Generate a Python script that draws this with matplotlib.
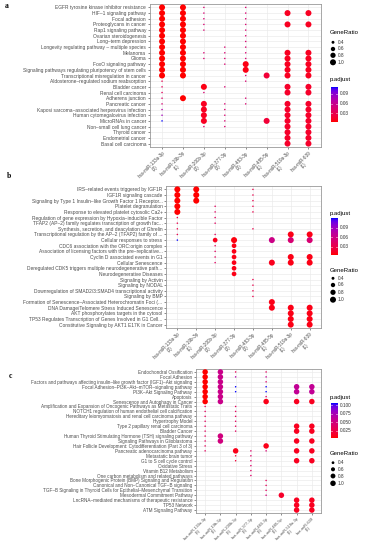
import numpy as np
import matplotlib.pyplot as plt
from matplotlib.colors import LinearSegmentedColormap

W, H = 365, 550

mirnas = ['hsa-miR-133a-3p', 'hsa-miR-19b-3p', 'hsa-miR-200b-3p', 'hsa-miR-377-3p',
          'hsa-miR-483-3p', 'hsa-miR-485-5p', 'hsa-miR-519a-3p', 'hsa-miR-639']
totals = [3, 1, 3, 3, 3, 1, 1, 1]

# ---- panel a (KEGG) ----
a_terms = ['EGFR tyrosine kinase inhibitor resistance', 'HIF–1 signaling pathway', 'Focal adhesion',
           'Proteoglycans in cancer', 'Rap1 signaling pathway', 'Ovarian steroidogenesis',
           'Long–term depression', 'Longevity regulating pathway – multiple species', 'Melanoma',
           'Glioma', 'FoxO signaling pathway', 'Signaling pathways regulating pluripotency of stem cells',
           'Transcriptional misregulation in cancer', 'Aldosterone–regulated sodium reabsorption',
           'Bladder cancer', 'Renal cell carcinoma', 'Adherens junction', 'Pancreatic cancer',
           'Kaposi sarcoma–associated herpesvirus infection', 'Human cytomegalovirus infection',
           'MicroRNAs in cancer', 'Non–small cell lung cancer', 'Thyroid cancer',
           'Endometrial cancer', 'Basal cell carcinoma']
a_counts = [
    [3, 1, 1, 0, 1, 0, 0, 0],
    [3, 1, 1, 0, 1, 0, 1, 1],
    [3, 1, 1, 0, 1, 0, 0, 0],
    [3, 1, 1, 0, 1, 0, 1, 1],
    [3, 1, 1, 0, 1, 0, 0, 0],
    [3, 1, 0, 0, 1, 0, 0, 0],
    [3, 1, 0, 0, 1, 0, 0, 0],
    [3, 1, 0, 1, 1, 0, 0, 0],
    [3, 1, 1, 1, 1, 0, 1, 1],
    [3, 1, 1, 1, 1, 0, 1, 1],
    [3, 1, 0, 1, 3, 0, 1, 1],
    [3, 1, 0, 0, 3, 0, 1, 1],
    [3, 1, 0, 0, 1, 1, 1, 1],
    [1, 0, 0, 0, 1, 0, 0, 0],
    [1, 0, 3, 1, 0, 0, 1, 1],
    [1, 0, 1, 0, 0, 0, 1, 1],
    [1, 1, 0, 0, 1, 0, 0, 0],
    [1, 0, 3, 1, 1, 0, 1, 1],
    [1, 0, 3, 1, 0, 0, 1, 1],
    [1, 0, 3, 1, 0, 0, 1, 1],
    [1, 0, 3, 1, 0, 1, 1, 1],
    [0, 0, 1, 1, 0, 0, 1, 1],
    [0, 0, 0, 0, 0, 0, 1, 1],
    [0, 0, 0, 0, 0, 0, 1, 1],
    [0, 0, 0, 0, 0, 0, 1, 1],
]
a_padj = [
    [.004, .004, .045, 0, .045, 0, 0, 0],
    [.004, .004, .045, 0, .045, 0, .012, .012],
    [.004, .004, .045, 0, .045, 0, 0, 0],
    [.004, .004, .045, 0, .045, 0, .012, .012],
    [.004, .004, .045, 0, .045, 0, 0, 0],
    [.004, .004, 0, 0, .045, 0, 0, 0],
    [.004, .004, 0, 0, .045, 0, 0, 0],
    [.004, .004, 0, .045, .045, 0, 0, 0],
    [.004, .004, .045, .045, .045, 0, .012, .012],
    [.004, .004, .045, .045, .045, 0, .012, .012],
    [.004, .004, 0, .045, .008, 0, .012, .012],
    [.004, .004, 0, 0, .008, 0, .012, .012],
    [.004, .004, 0, 0, .045, .02, .012, .012],
    [.03, 0, 0, 0, .045, 0, 0, 0],
    [.035, 0, .008, .045, 0, 0, .015, .015],
    [.035, 0, .045, 0, 0, 0, .015, .015],
    [.04, .004, 0, 0, .045, 0, 0, 0],
    [.045, 0, .012, .045, .045, 0, .015, .015],
    [.07, 0, .012, .045, 0, 0, .015, .015],
    [.08, 0, .012, .045, 0, 0, .015, .015],
    [.11, 0, .012, .045, 0, .02, .015, .015],
    [0, 0, .045, .045, 0, 0, .015, .015],
    [0, 0, 0, 0, 0, 0, .015, .015],
    [0, 0, 0, 0, 0, 0, .015, .015],
    [0, 0, 0, 0, 0, 0, .015, .015],
]

# ---- panel b (Reactome) ----
b_terms = ['IRS–related events triggered by IGF1R', 'IGF1R signaling cascade',
           'Signaling by Type 1 Insulin–like Growth Factor 1 Receptor...', 'Platelet degranulation',
           'Response to elevated platelet cytosolic Ca2+',
           'Regulation of gene expression by Hypoxia–inducible Factor',
           'TFAP2 (AP–2) family regulates transcription of growth fac...',
           'Synthesis, secretion, and deacylation of Ghrelin',
           'Transcriptional regulation by the AP–2 (TFAP2) family of ...',
           'Cellular responses to stress', 'CDC6 association with the ORC:origin complex',
           'Association of licensing factors with the pre–replicative...',
           'Cyclin D associated events in G1', 'Cellular Senescence',
           'Deregulated CDK5 triggers multiple neurodegenerative path...',
           'Neurodegenerative Diseases', 'Signaling by Activin', 'Signaling by NODAL',
           'Downregulation of SMAD2/3:SMAD4 transcriptional activity', 'Signaling by BMP',
           'Formation of Senescence–Associated Heterochromatin Foci (...',
           'DNA Damage/Telomere Stress Induced Senescence', 'AKT phosphorylates targets in the cytosol',
           'TP53 Regulates Transcription of Genes Involved in G1 Cell...',
           'Constitutive Signaling by AKT1 E17K in Cancer']
b_counts = [
    [3, 1, 0, 0, 1, 0, 0, 0],
    [3, 1, 0, 0, 1, 0, 0, 0],
    [3, 1, 0, 0, 1, 0, 0, 0],
    [3, 0, 1, 0, 1, 0, 0, 0],
    [3, 0, 1, 0, 1, 0, 0, 0],
    [1, 0, 1, 0, 0, 0, 0, 0],
    [1, 0, 1, 0, 0, 0, 0, 0],
    [1, 0, 0, 0, 1, 0, 0, 0],
    [1, 0, 1, 0, 0, 0, 1, 1],
    [1, 0, 2, 3, 0, 1, 1, 1],
    [0, 0, 1, 2, 0, 0, 0, 0],
    [0, 0, 1, 2, 0, 0, 0, 0],
    [0, 0, 1, 2, 0, 0, 1, 1],
    [0, 0, 1, 2, 0, 1, 1, 1],
    [0, 0, 0, 2, 0, 0, 0, 0],
    [0, 0, 0, 2, 0, 0, 0, 0],
    [0, 0, 0, 0, 1, 0, 0, 0],
    [0, 0, 0, 0, 1, 0, 0, 0],
    [0, 0, 0, 0, 1, 0, 0, 0],
    [0, 0, 0, 0, 1, 0, 0, 0],
    [0, 0, 0, 0, 0, 1, 0, 0],
    [0, 0, 0, 0, 0, 1, 1, 1],
    [0, 0, 0, 0, 0, 0, 1, 1],
    [0, 0, 0, 0, 0, 0, 1, 1],
    [0, 0, 0, 0, 0, 0, 1, 1],
]
b_padj = [
    [.003, .003, 0, 0, .03, 0, 0, 0],
    [.003, .003, 0, 0, .03, 0, 0, 0],
    [.003, .003, 0, 0, .03, 0, 0, 0],
    [.003, 0, .04, 0, .03, 0, 0, 0],
    [.003, 0, .04, 0, .03, 0, 0, 0],
    [.03, 0, .04, 0, 0, 0, 0, 0],
    [.03, 0, .04, 0, 0, 0, 0, 0],
    [.03, 0, 0, 0, .03, 0, 0, 0],
    [.03, 0, .04, 0, 0, 0, .008, .008],
    [.12, 0, .01, .006, 0, .06, .05, .05],
    [0, 0, .04, .008, 0, 0, 0, 0],
    [0, 0, .04, .008, 0, 0, 0, 0],
    [0, 0, .04, .008, 0, 0, .008, .008],
    [0, 0, .04, .008, 0, .01, .008, .008],
    [0, 0, 0, .008, 0, 0, 0, 0],
    [0, 0, 0, .008, 0, 0, 0, 0],
    [0, 0, 0, 0, .03, 0, 0, 0],
    [0, 0, 0, 0, .03, 0, 0, 0],
    [0, 0, 0, 0, .03, 0, 0, 0],
    [0, 0, 0, 0, .03, 0, 0, 0],
    [0, 0, 0, 0, 0, .008, 0, 0],
    [0, 0, 0, 0, 0, .008, .008, .008],
    [0, 0, 0, 0, 0, 0, .008, .008],
    [0, 0, 0, 0, 0, 0, .008, .008],
    [0, 0, 0, 0, 0, 0, .008, .008],
]

# ---- panel c (WikiPathways) ----
c_terms = ['Endochondral Ossification', 'Focal Adhesion',
           'Factors and pathways affecting insulin–like growth factor (IGF1)–Akt signaling',
           'Focal Adhesion–PI3K–Akt–mTOR–signaling pathway', 'PI3K–Akt Signaling Pathway', 'Apoptosis',
           'Senescence and Autophagy in Cancer',
           'Amplification and Expansion of Oncogenic Pathways as Metastatic Traits',
           'NOTCH1 regulation of human endothelial cell calcification',
           'Hereditary leiomyomatosis and renal cell carcinoma pathway', 'Hypertrophy Model',
           'Type 2 papillary renal cell carcinoma', 'Bladder Cancer',
           'Human Thyroid Stimulating Hormone (TSH) signaling pathway',
           'Signaling Pathways in Glioblastoma',
           'Hair Follicle Development: Cytodifferentiation (Part 3 of 3)',
           'Pancreatic adenocarcinoma pathway', 'Metastatic brain tumor', 'G1 to S cell cycle control',
           'Oxidative Stress', 'Vitamin B12 Metabolism', 'One carbon metabolism and related pathways',
           'Bone Morphogenic Protein (BMP) Signaling and Regulation',
           'Canonical and Non–Canonical TGF–B signaling',
           'TGF–B Signaling in Thyroid Cells for Epithelial–Mesenchymal Transition',
           'Mesodermal Commitment Pathway', 'LncRNA–mediated mechanisms of therapeutic resistance',
           'TP53 Network', 'ATM Signaling Pathway']
c_counts = [
    [3, 3, 1, 0, 1, 0, 0, 0],
    [3, 3, 1, 0, 1, 0, 0, 0],
    [3, 3, 0, 0, 1, 0, 0, 0],
    [3, 3, 1, 0, 1, 0, 1, 1],
    [3, 3, 1, 0, 1, 0, 1, 1],
    [3, 3, 0, 0, 1, 0, 0, 0],
    [3, 3, 0, 0, 3, 0, 1, 1],
    [1, 0, 1, 0, 0, 0, 0, 0],
    [1, 0, 1, 0, 0, 0, 0, 0],
    [1, 0, 1, 0, 0, 0, 0, 0],
    [1, 0, 1, 0, 0, 0, 0, 0],
    [1, 0, 1, 0, 0, 0, 1, 1],
    [1, 0, 1, 0, 0, 0, 1, 1],
    [1, 3, 0, 0, 0, 0, 0, 0],
    [1, 3, 0, 0, 0, 0, 1, 1],
    [1, 0, 0, 0, 3, 0, 0, 0],
    [1, 0, 3, 1, 1, 0, 1, 1],
    [0, 0, 1, 1, 0, 0, 0, 0],
    [0, 0, 1, 1, 0, 0, 1, 1],
    [0, 0, 0, 1, 0, 0, 0, 0],
    [0, 0, 0, 1, 0, 0, 0, 0],
    [0, 0, 0, 1, 0, 0, 0, 0],
    [0, 0, 0, 0, 1, 0, 0, 0],
    [0, 0, 0, 0, 1, 0, 0, 0],
    [0, 0, 0, 0, 1, 0, 0, 0],
    [0, 0, 0, 0, 1, 1, 0, 0],
    [0, 0, 0, 0, 0, 0, 1, 1],
    [0, 0, 0, 0, 0, 0, 1, 1],
    [0, 0, 0, 0, 0, 0, 1, 1],
]
c_padj = [
    [.005, .055, .03, 0, .035, 0, 0, 0],
    [.005, .055, .07, 0, .06, 0, 0, 0],
    [.005, .055, 0, 0, .04, 0, 0, 0],
    [.005, .055, .105, 0, .105, 0, .06, .06],
    [.005, .055, .105, 0, .105, 0, .06, .06],
    [.005, .055, 0, 0, .04, 0, 0, 0],
    [.005, .055, 0, 0, .01, 0, .012, .012],
    [.035, 0, .035, 0, 0, 0, 0, 0],
    [.035, 0, .035, 0, 0, 0, 0, 0],
    [.035, 0, .035, 0, 0, 0, 0, 0],
    [.035, 0, .035, 0, 0, 0, 0, 0],
    [.035, 0, .035, 0, 0, 0, .012, .012],
    [.035, 0, .035, 0, 0, 0, .012, .012],
    [.035, .05, 0, 0, 0, 0, 0, 0],
    [.035, .05, 0, 0, 0, 0, .012, .012],
    [.035, 0, 0, 0, .01, 0, 0, 0],
    [.035, 0, .01, .04, .045, 0, .012, .012],
    [0, 0, .02, .04, 0, 0, 0, 0],
    [0, 0, .02, .04, 0, 0, .012, .012],
    [0, 0, 0, .04, 0, 0, 0, 0],
    [0, 0, 0, .04, 0, 0, 0, 0],
    [0, 0, 0, .04, 0, 0, 0, 0],
    [0, 0, 0, 0, .035, 0, 0, 0],
    [0, 0, 0, 0, .035, 0, 0, 0],
    [0, 0, 0, 0, .035, 0, 0, 0],
    [0, 0, 0, 0, .05, .015, 0, 0],
    [0, 0, 0, 0, 0, 0, .012, .012],
    [0, 0, 0, 0, 0, 0, .012, .012],
    [0, 0, 0, 0, 0, 0, .012, .012],
]

size_breaks = [0.4, 0.6, 0.8, 1.0]

# red -> blue interpolated in CIE Lab, like ggplot's scale_color_gradient
M = np.array([[0.4124, 0.3576, 0.1805], [0.2126, 0.7152, 0.0722], [0.0193, 0.1192, 0.9505]])
WHITE = np.array([0.95047, 1.0, 1.08883])


def to_lab(rgb):
    c = np.array(rgb, float)
    c = np.where(c > 0.04045, ((c + 0.055) / 1.055) ** 2.4, c / 12.92)
    xyz = M @ c / WHITE
    f = np.where(xyz > 0.008856, np.cbrt(xyz), 7.787 * xyz + 16 / 116)
    return np.array([116 * f[1] - 16, 500 * (f[0] - f[1]), 200 * (f[1] - f[2])])


def to_rgb(lab):
    fy = (lab[0] + 16) / 116
    f = np.array([fy + lab[1] / 500, fy, fy - lab[2] / 200])
    xyz = np.where(f ** 3 > 0.008856, f ** 3, (f - 16 / 116) / 7.787) * WHITE
    c = np.linalg.solve(M, xyz)
    c = np.clip(c, 0, 1)
    c = np.where(c > 0.0031308, 1.055 * c ** (1 / 2.4) - 0.055, 12.92 * c)
    return np.clip(c, 0, 1)


lo, hi = to_lab([1, 0, 0]), to_lab([0, 0, 1])
cmap = LinearSegmentedColormap.from_list(
    'padj', [to_rgb(lo + (hi - lo) * t) for t in np.linspace(0, 1, 32)])

fig = plt.figure(figsize=(W / 100, H / 100), dpi=100)
plt.rcParams['font.family'] = ['Liberation Sans', 'DejaVu Sans']


def px_axes(l, t, r, b):
    return fig.add_axes([l / W, 1 - b / H, (r - l) / W, (b - t) / H])


def dot_area(r, dmax):
    # ggplot area scale: diameter grows with sqrt of the rescaled ratio
    d = 1.5 + (dmax - 1.5) * np.sqrt(np.clip((np.asarray(r) - 1 / 3) / (2 / 3), 0, 1))
    return (d * 0.72) ** 2


def dot_panel(rect, terms, counts, padj, fs, xfs, dmax):
    ax = px_axes(*rect)
    counts = np.array(counts)
    padj = np.array(padj, float)
    ratio = counts / np.array(totals)
    yy, xx = np.nonzero(counts)
    p = padj[yy, xx]
    vmin, vmax = p.min(), p.max()
    ax.scatter(xx, yy, s=dot_area(ratio[yy, xx], dmax), c=p, cmap=cmap, vmin=vmin, vmax=vmax,
               linewidths=0, zorder=3)
    ax.set_xlim(-0.6, len(mirnas) - 0.4)
    ax.set_ylim(len(terms) - 0.4, -0.6)
    ax.set_xticks(range(len(mirnas)))
    ax.set_xticklabels([f'{m}\n({t})' for m, t in zip(mirnas, totals)], rotation=45, ha='right',
                       va='top', rotation_mode='anchor', multialignment='center',
                       fontsize=xfs, color='#4D4D4D', linespacing=1.0)
    ax.set_yticks(range(len(terms)))
    ax.set_yticklabels(terms, fontsize=fs, color='#4D4D4D')
    ax.grid(True, color='#EBEBEB', lw=0.5)
    ax.set_axisbelow(True)
    ax.tick_params(length=1.5, width=0.4, color='#333333', pad=1)
    for s in ax.spines.values():
        s.set_color('#999999')
        s.set_linewidth(0.6)
    return vmin, vmax


a_lim = dot_panel((149.5, 4, 321, 147), a_terms, a_counts, a_padj, 3.5, 3.3, 6.0)
b_lim = dot_panel((166, 186, 321, 328), b_terms, b_counts, b_padj, 3.5, 3.3, 6.0)
c_lim = dot_panel((196, 369, 321, 513), c_terms, c_counts, c_padj, 3.3, 2.9, 5.5)

# overlay in pixel coordinates for legends and panel letters
lg = fig.add_axes([0, 0, 1, 1], zorder=5)
lg.set_xlim(0, W)
lg.set_ylim(H, 0)
lg.axis('off')
grad = np.linspace(0, 1, 100)[:, None]


def size_legend(y_title, ys, dmax):
    lg.text(330, y_title, 'GeneRatio', fontsize=4.3, va='center')
    lg.scatter([333] * len(ys), ys, s=dot_area(size_breaks, dmax), c='black', linewidths=0)
    for v, y in zip(size_breaks, ys):
        lg.text(337.5, y, f'{v:.1f}', fontsize=3.4, va='center', color='#333333')


def color_legend(y_title, top, bottom, lim, ticks, fmt):
    vmin, vmax = lim
    lg.text(330, y_title, 'p.adjust', fontsize=4.3, va='center')
    lg.imshow(grad, extent=(330.5, 337, bottom, top), origin='lower', cmap=cmap, aspect='auto')
    for t in ticks:
        y = bottom - (t - vmin) / (vmax - vmin) * (bottom - top)
        lg.plot([330.5, 331.8], [y, y], color='white', lw=0.4)
        lg.plot([335.7, 337], [y, y], color='white', lw=0.4)
        lg.text(339.5, y, fmt % t, fontsize=3.4, va='center', color='#333333')


size_legend(32, [42.3, 49, 55.3, 62.3], 6.0)
color_legend(80, 87, 122, a_lim, [0.03, 0.06, 0.09], '%.2f')
color_legend(214, 218.5, 255, b_lim, [0.03, 0.06, 0.09], '%.2f')
size_legend(270, [278.3, 285, 292.3, 299.7], 6.0)
color_legend(397.3, 403.3, 437.7, c_lim, [0.025, 0.05, 0.075, 0.1], '%.3f')
size_legend(453.3, [462.7, 469.3, 476, 483.3], 5.5)
lg.set_xlim(0, W)
lg.set_ylim(H, 0)

for letter, x, y in [('a', 7, 6), ('b', 9, 176), ('c', 10, 376)]:
    lg.text(x, y, letter, fontsize=5.5, fontweight='bold', family='Liberation Serif',
            ha='center', va='center')

fig.savefig('out.png', dpi=100)
